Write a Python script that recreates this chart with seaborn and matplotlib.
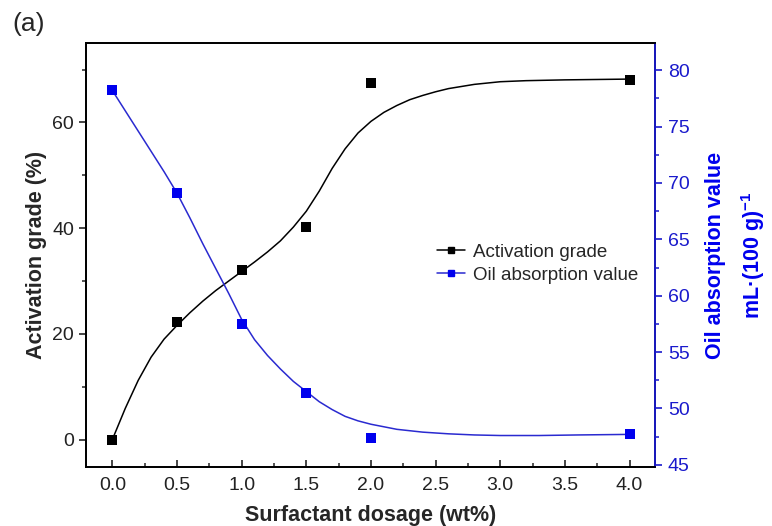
import matplotlib
matplotlib.use("Agg")
import matplotlib.pyplot as plt
from matplotlib.lines import Line2D
from matplotlib.ticker import MultipleLocator
import pandas as pd
import seaborn as sns

sns.set_style("ticks")
plt.rcParams['font.family'] = ['Liberation Sans', 'DejaVu Sans']
plt.rcParams['mathtext.fontset'] = 'custom'
plt.rcParams['mathtext.rm'] = 'Liberation Sans'
plt.rcParams['mathtext.bf'] = 'Liberation Sans:bold'
fontsize = 14
plt.rcParams['font.size'] = fontsize

black = '#000000'
blue = '#0000ee'
blue_line = '#2a2ad0'
blue_axis = '#1a1acc'

# measured points
dosage = [0.0, 0.5, 1.0, 1.5, 2.0, 4.0]
activation = [0.0, 22.2, 32.0, 40.3, 67.5, 68.1]
oil_abs = [78.2, 69.1, 57.5, 51.4, 47.4, 47.7]

# fitted curves
act_fit_x = [0.0, 0.1, 0.2, 0.3, 0.4, 0.5, 0.6, 0.7, 0.8, 0.9, 1.0, 1.1, 1.2,
             1.3, 1.4, 1.5, 1.6, 1.7, 1.8, 1.9, 2.0, 2.1, 2.2, 2.3, 2.4, 2.5,
             2.6, 2.8, 3.0, 3.2, 3.5, 4.0]
act_fit_y = [0.0, 5.9, 11.2, 15.6, 19.0, 21.6, 24.0, 26.2, 28.2, 30.0, 31.8, 33.6,
             35.5, 37.6, 40.2, 43.2, 47.0, 51.3, 55.0, 58.0, 60.2, 61.9, 63.2, 64.3,
             65.1, 65.8, 66.4, 67.2, 67.7, 67.9, 68.05, 68.2]
oil_fit_x = [0.0, 0.1, 0.2, 0.3, 0.4, 0.5, 0.6, 0.7, 0.8, 0.9, 1.0, 1.1, 1.2,
             1.3, 1.4, 1.5, 1.6, 1.7, 1.8, 1.9, 2.0, 2.2, 2.4, 2.6, 2.8, 3.0,
             3.3, 3.6, 4.0]
oil_fit_y = [78.2, 76.4, 74.6, 72.8, 71.0, 69.1, 66.9, 64.6, 62.4, 60.2, 57.9, 56.1,
             54.7, 53.5, 52.4, 51.5, 50.6, 49.9, 49.3, 48.9, 48.6, 48.15, 47.9, 47.75,
             47.65, 47.6, 47.6, 47.65, 47.7]

pts = pd.DataFrame({"dosage": dosage, "activation": activation, "oil": oil_abs})
act_fit = pd.DataFrame({"x": act_fit_x, "y": act_fit_y})
oil_fit = pd.DataFrame({"x": oil_fit_x, "y": oil_fit_y})

fig = plt.figure(figsize=(7.72, 5.26), dpi=100)
ax = fig.add_axes([0.112, 0.112, 0.737, 0.806])
ax2 = ax.twinx()

sns.lineplot(data=act_fit, x="x", y="y", ax=ax, color=black, lw=1.1,
             sort=False, estimator=None)
sns.scatterplot(data=pts, x="dosage", y="activation", ax=ax, color=black,
                marker='s', s=45, edgecolor=black, linewidth=0, zorder=5)
sns.lineplot(data=oil_fit, x="x", y="y", ax=ax2, color=blue_line, lw=1.1,
             sort=False, estimator=None)
sns.scatterplot(data=pts, x="dosage", y="oil", ax=ax2, color=blue,
                marker='s', s=45, edgecolor=blue, linewidth=0, zorder=5)

ax.set_xlim(-0.2, 4.2)
ax.set_ylim(-5.2, 75)
ax2.set_ylim(44.8, 82.4)
ax.xaxis.set_major_locator(MultipleLocator(0.5))
ax.xaxis.set_minor_locator(MultipleLocator(0.25))
ax.yaxis.set_major_locator(MultipleLocator(20))
ax.yaxis.set_minor_locator(MultipleLocator(10))
ax2.yaxis.set_major_locator(MultipleLocator(5))
ax2.yaxis.set_minor_locator(MultipleLocator(2.5))
ax.set_xticklabels([f"{v:.1f}" for v in ax.get_xticks()])

for a in (ax, ax2):
    for s in a.spines.values():
        s.set_linewidth(1.3)
        s.set_color(black)
ax2.spines['right'].set_color(blue_axis)

ax.tick_params(axis='x', which='major', direction='in', length=5, width=1.2,
               pad=7, labelsize=fontsize, labelcolor='#222222', top=False)
ax.tick_params(axis='x', which='minor', direction='in', length=3, width=1.1, top=False)
ax.tick_params(axis='y', which='major', direction='out', length=5, width=1.2,
               pad=4, labelsize=fontsize, labelcolor='#222222')
ax.tick_params(axis='y', which='minor', direction='out', length=3, width=1.1)
ax2.tick_params(axis='y', which='major', direction='out', length=5, width=1.2,
                pad=4, labelsize=fontsize, colors=blue_axis)
ax2.tick_params(axis='y', which='minor', direction='out', length=3, width=1.1,
                colors=blue_axis)

ax.set_xlabel("Surfactant dosage (wt%)", fontweight='bold', fontsize=15.5, labelpad=8)
ax.set_ylabel("Activation grade (%)", fontweight='bold', fontsize=15.5, labelpad=4)
ax2.set_ylabel("Oil absorption value\nmL·(100 g)$\\mathbf{^{-1}}$", fontweight='bold',
               fontsize=15.5, color=blue, labelpad=11, multialignment='center',
               linespacing=1.6)

handles = [Line2D([], [], color=black, lw=1.1, marker='s', markersize=5),
           Line2D([], [], color=blue_line, lw=1.1, marker='s', markersize=5,
                  markerfacecolor=blue, markeredgecolor=blue)]
ax.legend(handles, ["Activation grade", "Oil absorption value"], loc='center left',
          bbox_to_anchor=(0.6, 0.48), frameon=False, fontsize=13.5,
          handlelength=1.5, handletextpad=0.4, labelspacing=0.3, borderpad=0)

fig.text(0.016, 0.955, "(a)", fontsize=19, va='center', ha='left')

fig.savefig("out.png", dpi=100)
